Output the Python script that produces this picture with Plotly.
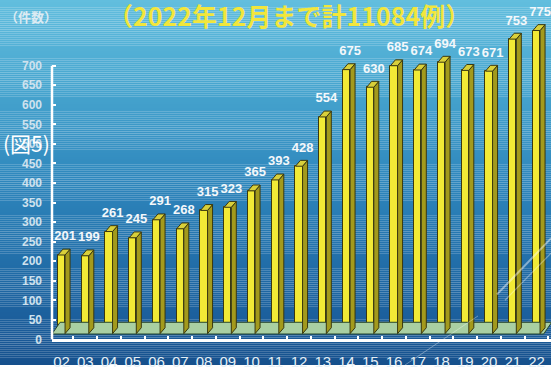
import plotly.graph_objects as go

# Yearly case counts, 2002-2022
years = ["02", "03", "04", "05", "06", "07", "08", "09", "10", "11", "12",
         "13", "14", "15", "16", "17", "18", "19", "20", "21", "22"]
cases = [201, 199, 261, 245, 291, 268, 315, 323, 365, 393, 428,
         554, 675, 630, 685, 674, 694, 673, 671, 753, 775]
y_ticks = list(range(0, 701, 50))

title_text = "（2022年12月まで計11084例）"
unit_text = "（件数）"
fig_label = "(図5)"

W, H = 551, 372
Y_TOP = 868.0          # y range upper bound (0..700 axis sits in lower part)
X_LO, X_HI = -0.4, 20.61

# pseudo-3D geometry (data units)
BAR_W = 0.30
BAR_DX = 0.21
BAR_DY = 15
LIFT = 15
FLOOR_FRONT = 14
FLOOR_BACK = 44
FLOOR_DX = 0.34
LABEL_PAD = 14

SANS = "Liberation Sans, Arial, sans-serif"
CJK = "Noto Sans CJK JP, sans-serif"

xs = list(range(len(years)))

fig = go.Figure()

# floor slab
fig.add_trace(go.Scatter(
    x=[X_LO, X_LO + FLOOR_DX, 20.64, 20.3, X_LO],
    y=[FLOOR_FRONT, FLOOR_BACK, FLOOR_BACK, FLOOR_FRONT, FLOOR_FRONT],
    fill="toself", fillcolor="#a9cfa2", mode="lines",
    line=dict(color="#27452c", width=1), hoverinfo="skip", showlegend=False))

# side and top faces of each column
side_x, side_y, top_x, top_y = [], [], [], []
for x, v in zip(xs, cases):
    r = x + BAR_W / 2
    l = x - BAR_W / 2
    side_x += [r, r + BAR_DX, r + BAR_DX, r, r, None]
    side_y += [LIFT, LIFT + BAR_DY, LIFT + v + BAR_DY, LIFT + v, LIFT, None]
    top_x += [l, r, r + BAR_DX, l + BAR_DX, l, None]
    top_y += [LIFT + v, LIFT + v, LIFT + v + BAR_DY, LIFT + v + BAR_DY, LIFT + v, None]

fig.add_trace(go.Scatter(
    x=side_x, y=side_y, fill="toself", fillcolor="#a39a1c", mode="lines",
    line=dict(color="#3a3810", width=1), hoverinfo="skip", showlegend=False))
fig.add_trace(go.Scatter(
    x=top_x, y=top_y, fill="toself", fillcolor="#d9d03a", mode="lines",
    line=dict(color="#3a3810", width=1), hoverinfo="skip", showlegend=False))

# front faces
fig.add_trace(go.Bar(
    x=xs, y=cases, base=LIFT, width=BAR_W,
    marker=dict(color="#f2ea36", line=dict(color="#3a3810", width=1)),
    hoverinfo="skip", showlegend=False))

# value labels
fig.add_trace(go.Scatter(
    x=[x + 0.15 for x in xs], y=[LIFT + v + BAR_DY + LABEL_PAD for v in cases],
    mode="text", text=[str(v) for v in cases], textposition="top center",
    textfont=dict(family=SANS, size=13, color="#f4f8fb", weight="bold"),
    cliponaxis=False, hoverinfo="skip", showlegend=False))

# background gradient, top to bottom
stops = [(0.0, (98, 190, 222)), (0.25, (70, 164, 206)), (0.5, (46, 134, 188)),
         (0.75, (32, 107, 166)), (0.92, (26, 90, 152)), (1.0, (22, 80, 140))]

def grad(t):
    for (t0, c0), (t1, c1) in zip(stops, stops[1:]):
        if t <= t1:
            f = (t - t0) / (t1 - t0)
            return "rgb(%d,%d,%d)" % tuple(round(a + (b - a) * f) for a, b in zip(c0, c1))
    return "rgb(%d,%d,%d)" % stops[-1][1]

shapes = []
step = 2
for k in range(0, H, step):
    shapes.append(dict(type="rect", xref="paper", yref="paper",
                       x0=0, x1=1, y0=1 - (k + step) / H, y1=1 - k / H,
                       fillcolor=grad((k + step / 2) / H), line=dict(width=0),
                       layer="below"))

# vertical axis line from 0 to 700
shapes.append(dict(type="line", xref="x domain", x0=0, x1=0, yref="y",
                   y0=0, y1=y_ticks[-1], line=dict(color="white", width=2.5)))

# faint glare streaks
for (x0, y0, x1, y1, w, op) in [(551, 243, 497, 300, 2, 0.45),
                                (551, 258, 505, 306, 1.2, 0.35),
                                (478, 322, 405, 372, 1, 0.35)]:
    shapes.append(dict(type="line", xref="paper", yref="paper",
                       x0=x0 / W, x1=x1 / W, y0=1 - y0 / H, y1=1 - y1 / H,
                       line=dict(color="rgba(255,255,255,%.2f)" % op, width=w)))

annotations = [
    dict(text=title_text, x=289 / W, y=1 - 15.5 / H, xref="paper", yref="paper",
         xanchor="center", yanchor="middle", showarrow=False,
         font=dict(family=CJK, size=25, color="#f2e63c", weight="bold")),
    dict(text=unit_text, x=31 / W, y=1 - 17 / H, xref="paper", yref="paper",
         xanchor="center", yanchor="middle", showarrow=False,
         font=dict(family=CJK, size=13, color="#dcebf3", weight="bold")),
    dict(text=fig_label, x=26 / W, y=1 - 146 / H, xref="paper", yref="paper",
         xanchor="center", yanchor="middle", showarrow=False,
         font=dict(family=CJK, size=21, color="white")),
]

fig.update_layout(
    width=W, height=H,
    margin=dict(l=0, r=0, t=0, b=0),
    paper_bgcolor="rgba(0,0,0,0)", plot_bgcolor="rgba(0,0,0,0)",
    shapes=shapes, annotations=annotations,
    xaxis=dict(domain=[52 / W, 1], range=[X_LO, X_HI],
               tickmode="array", tickvals=xs, ticktext=years, ticks="",
               showgrid=False, zeroline=False,
               showline=True, linecolor="white", linewidth=2.5,
               ticklabelstandoff=7,
               tickfont=dict(family=SANS, size=15, color="#e4eff6"),
               minor=dict(ticks="inside", tick0=0.5, dtick=1, ticklen=4,
                          tickcolor="white", tickwidth=1.5, showgrid=False)),
    yaxis=dict(domain=[26 / H, 1], range=[0, Y_TOP],
               tickmode="array", tickvals=y_ticks, ticks="inside",
               ticklen=4, tickwidth=2, tickcolor="white",
               showgrid=False, zeroline=False, showline=False,
               ticklabelstandoff=9,
               tickfont=dict(family=SANS, size=12, color="#cfe2ee", weight="bold")),
    bargap=0,
)

fig.write_html("out.html")
